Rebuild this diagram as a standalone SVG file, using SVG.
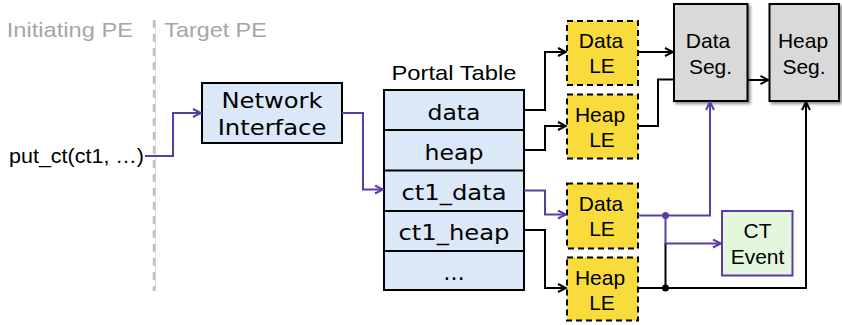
<svg xmlns="http://www.w3.org/2000/svg" width="842" height="325" viewBox="0 0 842 325">
<style>
.lbl{font-family:"Liberation Sans",Arial,sans-serif;font-size:21px;fill:#000;text-anchor:middle}
.ver{font-family:"DejaVu Sans",Verdana,sans-serif;font-size:21.5px;fill:#000;text-anchor:middle}
.pe{font-family:"Liberation Sans",Arial,sans-serif;font-size:21px;fill:#a6a6a6}
.blue{fill:#dbe8f7;stroke:#000;stroke-width:2}
.le{fill:#f9dc3c;stroke:#000;stroke-width:2;stroke-dasharray:6 4}
.seg{fill:#d9d9d9;stroke:#000;stroke-width:2;filter:url(#sh)}
.blk{fill:none;stroke:#000;stroke-width:2}
.pur{fill:none;stroke:#5a3ca6;stroke-width:2}
</style>
<defs>
<filter id="sh" x="-20%" y="-20%" width="150%" height="150%">
<feDropShadow dx="2" dy="2" stdDeviation="1.5" flood-color="#000" flood-opacity="0.45"/>
</filter>
<marker id="ab" viewBox="0 0 10 10" refX="9" refY="5" markerWidth="10" markerHeight="10" markerUnits="userSpaceOnUse" orient="auto">
<path d="M1,1 L9,5 L1,9" fill="none" stroke="#000" stroke-width="2"/>
</marker>
<marker id="ap" viewBox="0 0 10 10" refX="9" refY="5" markerWidth="10" markerHeight="10" markerUnits="userSpaceOnUse" orient="auto">
<path d="M1,1 L9,5 L1,9" fill="none" stroke="#5a3ca6" stroke-width="2"/>
</marker>
</defs>
<rect width="842" height="325" fill="#fff"/>

<g id="divider">
<line x1="155.5" y1="20" x2="155.5" y2="291" stroke="#c6e0f7" stroke-width="1"/>
<line x1="154" y1="20" x2="154" y2="291" stroke="#bfbfbf" stroke-width="2.5" stroke-dasharray="7.7 6.3"/>
<text class="pe" x="6.7" y="37.3" textLength="126.3" lengthAdjust="spacingAndGlyphs">Initiating PE</text>
<text class="pe" x="164.3" y="37.3" textLength="102.4" lengthAdjust="spacingAndGlyphs">Target PE</text>
</g>

<g id="put_ct">
<text class="lbl" x="9" y="163" style="text-anchor:start" textLength="135" lengthAdjust="spacingAndGlyphs">put_ct(ct1, …)</text>
</g>

<g id="network_interface">
<rect class="blue" x="202" y="83" width="140" height="60"/>
<text class="ver" x="272" y="108.3" textLength="101" lengthAdjust="spacingAndGlyphs">Network</text>
<text class="ver" x="272" y="135" textLength="108.7" lengthAdjust="spacingAndGlyphs">Interface</text>
</g>

<g id="portal_table">
<text class="lbl" x="454" y="80" textLength="125" lengthAdjust="spacingAndGlyphs">Portal Table</text>
<rect class="blue" x="384" y="90" width="140" height="200"/>
<line class="blk" x1="384" y1="130" x2="524" y2="130"/>
<line class="blk" x1="384" y1="170.5" x2="524" y2="170.5"/>
<line class="blk" x1="384" y1="211" x2="524" y2="211"/>
<line class="blk" x1="384" y1="251" x2="524" y2="251"/>
<text class="ver" x="454" y="120" textLength="53" lengthAdjust="spacingAndGlyphs">data</text>
<text class="ver" x="454" y="160" textLength="59" lengthAdjust="spacingAndGlyphs">heap</text>
<text class="ver" x="454" y="200" textLength="105" lengthAdjust="spacingAndGlyphs">ct1_data</text>
<text class="ver" x="454" y="240" textLength="111" lengthAdjust="spacingAndGlyphs">ct1_heap</text>
<text class="ver" x="454" y="280">…</text>
</g>

<g id="data_le_1">
<rect class="le" x="567" y="21" width="71" height="64"/>
<text class="lbl" x="601" y="48.3">Data</text>
<text class="lbl" x="602" y="73.3">LE</text>
</g>
<g id="heap_le_1">
<rect class="le" x="567" y="94.5" width="71" height="64"/>
<text class="lbl" x="600" y="121.7">Heap</text>
<text class="lbl" x="602" y="146.7">LE</text>
</g>
<g id="data_le_2">
<rect class="le" x="567" y="183.5" width="71" height="65"/>
<text class="lbl" x="601" y="210.5">Data</text>
<text class="lbl" x="602" y="236">LE</text>
</g>
<g id="heap_le_2">
<rect class="le" x="567" y="257.5" width="71" height="63"/>
<text class="lbl" x="600" y="285">Heap</text>
<text class="lbl" x="602" y="310">LE</text>
</g>

<g id="data_seg">
<rect class="seg" x="674" y="4" width="73.5" height="97"/>
<text class="lbl" x="708" y="48.3">Data</text>
<text class="lbl" x="710.5" y="74">Seg.</text>
</g>
<g id="heap_seg">
<rect class="seg" x="769.5" y="4" width="69.5" height="97"/>
<text class="lbl" x="803" y="48.3">Heap</text>
<text class="lbl" x="804" y="74">Seg.</text>
</g>

<g id="ct_event">
<rect x="722" y="211" width="70.5" height="64.5" fill="#e2f7dc" stroke="#5a3ca6" stroke-width="2"/>
<text class="lbl" x="757.5" y="238.3">CT</text>
<text class="lbl" x="757.5" y="264.3">Event</text>
</g>

<g id="connectors">
<path class="pur" d="M145,156 H173 V113 H201" marker-end="url(#ap)"/>
<path class="pur" d="M342,113 H363 V189.5 H383" marker-end="url(#ap)"/>
<path class="blk" d="M524,110 H545 V52 H566" marker-end="url(#ab)"/>
<path class="blk" d="M524,150 H545 V126 H566" marker-end="url(#ab)"/>
<path class="pur" d="M524,190.5 H545 V214.5 H566" marker-end="url(#ap)"/>
<path class="blk" d="M524,230 H545 V288 H566" marker-end="url(#ab)"/>
<path class="blk" d="M638,52 H673" marker-end="url(#ab)"/>
<path class="blk" d="M638,126 H658 V79.5 H674"/>
<path class="blk" d="M748,80 H768.5" marker-end="url(#ab)"/>
<path class="blk" d="M638,288 H806 V102" marker-end="url(#ab)"/>
<path class="blk" d="M665.5,288 V243"/>
<path class="pur" d="M638,215.5 H710 V102" marker-end="url(#ap)"/>
<path class="pur" d="M665.5,215.5 V243.5 H721" marker-end="url(#ap)"/>
<circle cx="665.5" cy="215.5" r="3.5" fill="#5a3ca6"/>
<circle cx="665.5" cy="288" r="3.5" fill="#000"/>
</g>
</svg>
